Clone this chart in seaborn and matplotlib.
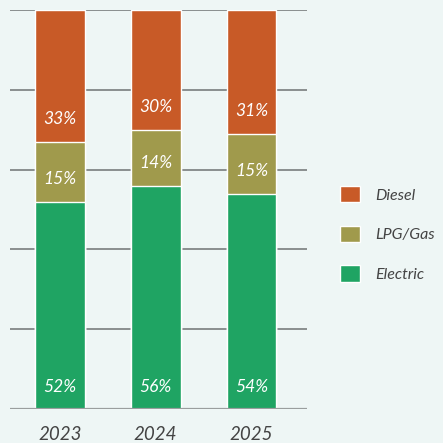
import pandas as pd
import seaborn as sns
import matplotlib.pyplot as plt

years = ["2023", "2024", "2025"]
electric = [52, 56, 54]
lpg = [15, 14, 15]
diesel = [33, 30, 31]

colors = {"Diesel": "#C85A27", "LPG/Gas": "#A09A4C", "Electric": "#1FA463"}
bg = "#EEF6F5"

df = pd.DataFrame({"year": years, "Electric": electric, "LPG/Gas": lpg, "Diesel": diesel})
df["lpg_top"] = df["Electric"] + df["LPG/Gas"]
df["diesel_top"] = df["lpg_top"] + df["Diesel"]

sns.set_style("white")
plt.rcParams["font.family"] = ["Lato", "DejaVu Sans"]

fig = plt.figure(figsize=(4.43, 4.43), dpi=100, facecolor=bg)
ax = fig.add_axes([10 / 443, 1 - 409 / 443, 297 / 443, 399 / 443])
ax.set_facecolor(bg)

for y in [20, 40, 60, 80, 100]:
    ax.axhline(y, color="#8a8f8f", lw=1.4, zorder=0)
ax.axhline(0, color="#9a9e9e", lw=1.6, zorder=3)

layers = [("diesel_top", "Diesel"), ("lpg_top", "LPG/Gas"), ("Electric", "Electric")]
for col, name in layers:
    sns.barplot(data=df, x="year", y=col, color=colors[name], width=0.52,
                edgecolor="white", linewidth=1, saturation=1, ax=ax, zorder=2,
                label=name)

for i in range(len(years)):
    bottoms = [0, df["Electric"][i], df["lpg_top"][i]]
    vals = [electric[i], lpg[i], diesel[i]]
    for b, v in zip(bottoms, vals):
        ax.text(i, b + 5.6, f"{v}%", ha="center", va="center", color="white",
                fontsize=12.5, style="italic", zorder=4)

ax.set_xlim(-0.52, 2.58)
ax.set_ylim(0, 100)
ax.set_xlabel("")
ax.set_ylabel("")
ax.set_yticks([])
ax.tick_params(axis="x", length=0, pad=12, labelsize=13.5, labelcolor="#444444")
for lab in ax.get_xticklabels():
    lab.set_style("italic")
for s in ax.spines.values():
    s.set_visible(False)

ax.legend(loc="center left", bbox_to_anchor=(326 / 443, 1 - 234 / 443), bbox_transform=fig.transFigure,
          frameon=False, prop={"size": 11.5, "style": "italic"}, labelcolor="#444444",
          handlelength=1.2, handleheight=1.2, labelspacing=1.45, handletextpad=1.0)

fig.savefig("out.png", dpi=100, facecolor=bg)
